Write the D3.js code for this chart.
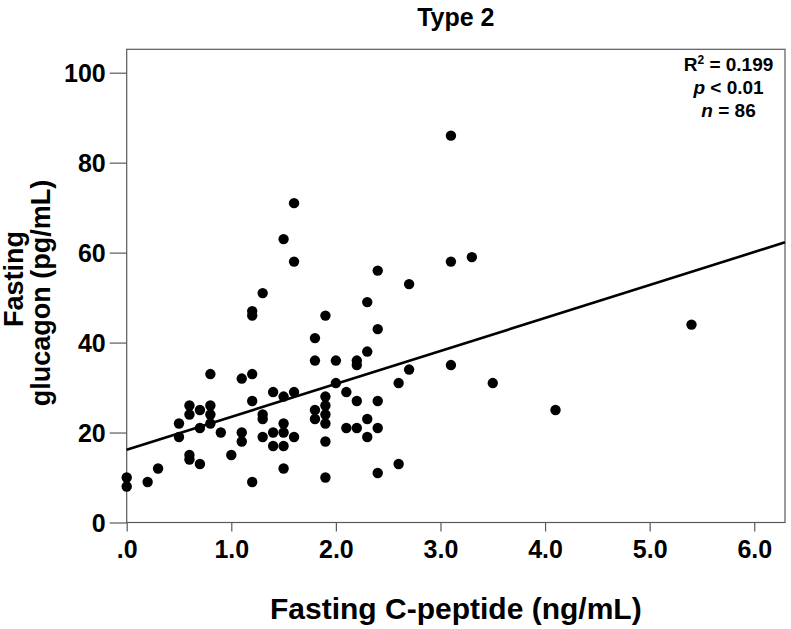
<!DOCTYPE html>
<html>
<head>
<meta charset="utf-8">
<script src="https://cdn.jsdelivr.net/npm/d3@7/dist/d3.min.js"></script>
<style>
  html, body { margin: 0; padding: 0; background: #fff; }
  svg { display: block; }
  text { font-family: "Liberation Sans", Arial, Helvetica, sans-serif; font-weight: bold; fill: #000; }
</style>
</head>
<body>
<svg id="chart" width="791" height="629"></svg>
<script>
// ---- data ----
const cPeptide = [0,0,0.2,0.3,0.5,0.5,0.6,0.6,0.6,0.6,0.7,0.7,0.7,0.8,0.8,0.8,0.8,0.9,1.0,1.1,1.1,1.1,
  1.2,1.2,1.2,1.2,1.2,1.3,1.3,1.3,1.3,1.4,1.4,1.4,1.5,1.5,1.5,1.5,1.5,1.5,1.6,1.6,1.6,1.6,
  1.8,1.8,1.8,1.8,1.9,1.9,1.9,1.9,1.9,1.9,1.9,2.0,2.0,2.1,2.1,2.2,2.2,2.2,2.2,2.3,2.3,2.3,2.3,
  2.4,2.4,2.4,2.4,2.4,2.6,2.6,2.7,2.7,3.1,3.1,3.1,3.3,3.5,4.1,5.4];
const glucagon = [10,8,9,12,22,19,26,24,15,14,25,21,13,33,26,24,22,20,15,32,20,18,
  47,46,33,27,9,51,24,23,19,29,20,17,63,28,22,20,17,12,71,58,29,19,
  41,36,25,23,46,28,26,24,22,18,10,36,31,29,21,36,35,27,21,49,38,23,19,
  56,43,27,21,11,31,13,53,34,86,58,35,59,31,25,44];
const xTicks = [0,1,2,3,4,5,6];
const xTickLabels = [".0","1.0","2.0","3.0","4.0","5.0","6.0"];
const yTicks = [0,20,40,60,80,100];
const fitIntercept = 16.15;
const fitSlope = 7.33;
const titleText = "Type 2";
const xTitle = "Fasting C-peptide (ng/mL)";
const yTitleLines = ["Fasting","glucagon (pg/mL)"];

// ---- layout ----
const svg = d3.select("#chart");
const L = 126.7, T = 49.3, R = 785, B = 522.5;
const x = d3.scaleLinear().domain([0, 6.294]).range([L, R]);
const y = d3.scaleLinear().domain([0, 105.2]).range([B, T]);
const axisColor = "#595959";

// frame
svg.append("rect").attr("x", L).attr("y", T).attr("width", R - L).attr("height", B - T)
  .attr("fill", "none").attr("stroke", axisColor).attr("stroke-width", 1.2);

// x axis
const xAxis = d3.axisBottom(x).tickValues(xTicks).tickSize(9).tickSizeOuter(0)
  .tickFormat((d, i) => xTickLabels[i]);
const gx = svg.append("g").attr("transform", `translate(0,${B})`).call(xAxis);
gx.select(".domain").remove();
gx.selectAll(".tick line").attr("stroke", axisColor).attr("stroke-width", 1.2);
gx.selectAll(".tick text").attr("font-size", 25).attr("dy", 0).attr("y", 35)
  .style("font-family", "'Liberation Sans', Arial, sans-serif").style("font-weight", "bold").attr("fill", "#000");

// y axis
const yAxis = d3.axisLeft(y).tickValues(yTicks).tickSize(17).tickSizeOuter(0).tickFormat(d3.format("d"));
const gy = svg.append("g").attr("transform", `translate(${L},0)`).call(yAxis);
gy.select(".domain").remove();
gy.selectAll(".tick line").attr("stroke", axisColor).attr("stroke-width", 1.2);
gy.selectAll(".tick text").attr("font-size", 25).attr("x", -21).attr("dy", "0.35em")
  .style("font-family", "'Liberation Sans', Arial, sans-serif").style("font-weight", "bold").attr("fill", "#000");

// regression line
const xd = x.domain();
svg.append("line")
  .attr("x1", x(xd[0])).attr("y1", y(fitIntercept + fitSlope * xd[0]))
  .attr("x2", x(xd[1])).attr("y2", y(fitIntercept + fitSlope * xd[1]))
  .attr("stroke", "#000").attr("stroke-width", 2.6);

// points
svg.append("g").selectAll("circle").data(cPeptide.map((c, i) => [c, glucagon[i]]))
  .join("circle")
  .attr("cx", d => x(d[0])).attr("cy", d => y(d[1])).attr("r", 5.2).attr("fill", "#000");

// title
svg.append("text").attr("x", (L + R) / 2).attr("y", 26).attr("text-anchor", "middle")
  .attr("font-size", 25).text(titleText);

// x title
svg.append("text").attr("x", (L + R) / 2).attr("y", 618.5).attr("text-anchor", "middle")
  .attr("font-size", 30).text(xTitle);

// y title
const yt = svg.append("g");
yt.append("text").attr("transform", "translate(23,279) rotate(-90)").attr("text-anchor", "middle")
  .attr("font-size", 27).text(yTitleLines[0]);
yt.append("text").attr("transform", "translate(50,293) rotate(-90)").attr("text-anchor", "middle")
  .attr("font-size", 27).text(yTitleLines[1]);

// stats
const sx = 728.5;
const s1 = svg.append("text").attr("x", sx).attr("y", 71).attr("text-anchor", "middle").attr("font-size", 19);
s1.append("tspan").text("R");
s1.append("tspan").attr("font-size", 12).attr("dy", -7).text("2");
s1.append("tspan").attr("dy", 7).text(" = 0.199");
const s2 = svg.append("text").attr("x", sx).attr("y", 94).attr("text-anchor", "middle").attr("font-size", 19);
s2.append("tspan").attr("font-style", "italic").text("p");
s2.append("tspan").text(" < 0.01");
const s3 = svg.append("text").attr("x", sx).attr("y", 117).attr("text-anchor", "middle").attr("font-size", 19);
s3.append("tspan").attr("font-style", "italic").text("n");
s3.append("tspan").text(" = 86");
</script>
</body>
</html>
